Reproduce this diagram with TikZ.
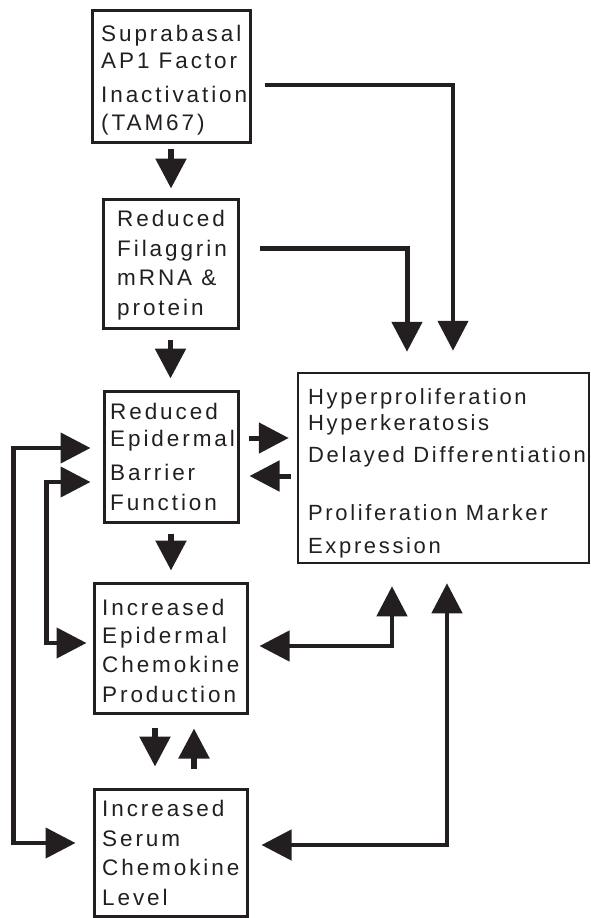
\documentclass[tikz,border=0pt]{standalone}
\usepackage{fontspec}
\setmainfont{Liberation Sans}
\newfontfamily\boxfont{Liberation Sans}[LetterSpace=13]
\newfontfamily\bigfont{Liberation Sans}[LetterSpace=12]
\usetikzlibrary{arrows.meta,calc}
\definecolor{ink}{HTML}{231F20}
\begin{document}
\begin{tikzpicture}[x=1pt,y=-1pt,
  box/.style={draw=ink, line width=3pt, inner sep=0pt},
  txt/.style={anchor=base west, inner sep=0pt, align=left, text=ink,
    font=\boxfont\fontsize{22.5}{29.5}\selectfont},
  bigtxt/.style={anchor=base west, inner sep=0pt, align=left, text=ink,
    font=\bigfont\fontsize{22}{29.5}\selectfont},
  conn/.style={draw=ink, line width=5.5pt, -{Triangle[width=30pt,length=30pt]}},
  lconn/.style={draw=ink, line width=4.5pt, miter limit=10, -{Triangle[width=30pt,length=30pt]}},
  dbl/.style={draw=ink, line width=4.5pt, {Triangle[width=30pt,length=30pt]}-{Triangle[width=30pt,length=30pt]}}
]
\useasboundingbox (0,0) rectangle (591,918);

% boxes
\node[box, minimum width=158pt, minimum height=132pt] (b1) at (171,76) {};
\node[box, minimum width=135pt, minimum height=129pt] (b2) at (170.5,263.5) {};
\node[box, minimum width=134pt, minimum height=131pt] (b3) at (171,456.5) {};
\node[box, minimum width=153pt, minimum height=130pt] (b4) at (170.5,648) {};
\node[box, minimum width=153pt, minimum height=127pt] (b5) at (170.5,852.5) {};
\node[box, line width=2.5pt, minimum width=291pt, minimum height=190pt] (big) at (443.5,468) {};

% texts (base anchor = baseline of the last line)
\node[txt] (t1) at (101,130) {Suprabasal\\[-2.5pt]AP1 Factor\\[4.5pt]Inactivation\\[-1.5pt](TAM67)};
\node[txt] (t2) at (117,315) {Reduced\\Filaggrin\\mRNA \&\\protein};
\node[txt] (t3) at (110,510) {Reduced\\[-2.5pt]Epidermal\\[4.5pt]Barrier\\Function};
\node[txt] (t4) at (102,702) {Increased\\[-1.5pt]Epidermal\\Chemokine\\Production};
\node[txt] (t5) at (102,905) {Increased\\Serum\\Chemokine\\Level};
\node[bigtxt] (tb) at (308,553) {Hyperproliferation\\[-3.5pt]Hyperkeratosis\\[2.5pt]Delayed Differentiation\\[28.5pt]Proliferation Marker\\[3.5pt]Expression};

% vertical chain
\draw[conn] ($(b1.south)+(0,5)$) -- ($(b1.south |- b2.north)+(0,-9)$);
\draw[conn] ($(b2.south)+(0,10)$) -- ($(b2.south |- b3.north)+(0,-11)$);
\draw[conn] ($(b3.south)+(0,10)$) -- ($(b3.south |- b4.north)+(0,-11)$);
\draw[conn] ($(b4.south)+(-15.5,13)$) -- ($(b5.north)+(-15.5,-21)$);
\draw[conn] ($(b5.north)+(23.5,-19)$) -- ($(b4.south)+(23.5,14)$);

% to the big box from top
\draw[lconn] ($(b1.east)+(13,9)$) -| ($(big.north)+(9.5,-21)$);
\draw[lconn, line width=5pt] ($(b2.east)+(20,-15.5)$) -| ($(big.north)+(-36.5,-20)$);

% barrier <-> big
\draw[conn, line width=5pt] ($(b3.east)+(9,-18.5)$) -- ($(b3.east -| big.west)+(-8,-18.5)$);
\draw[conn, line width=5pt] ($(b3.east -| big.west)+(-6,19.5)$) -- ($(b3.east)+(10,19.5)$);

% left loops
\draw[dbl] ($(b3.west)+(-12,-8.5)$) -| ($(b5.west)+(-79,-9.5)$) -- ($(b5.west)+(-17,-9.5)$);
\draw[dbl] ($(b3.west)+(-12,25.5)$) -| ($(b4.west)+(-46,-5)$) -- ($(b4.west)+(-6,-5)$);

% right loops
\draw[dbl] ($(b4.east)+(11,-2)$) -| ($(big.south)+(-51.5,22)$);
\draw[dbl] ($(b5.east)+(13,-7.5)$) -| ($(big.south)+(3.5,19)$);
\end{tikzpicture}
\end{document}
